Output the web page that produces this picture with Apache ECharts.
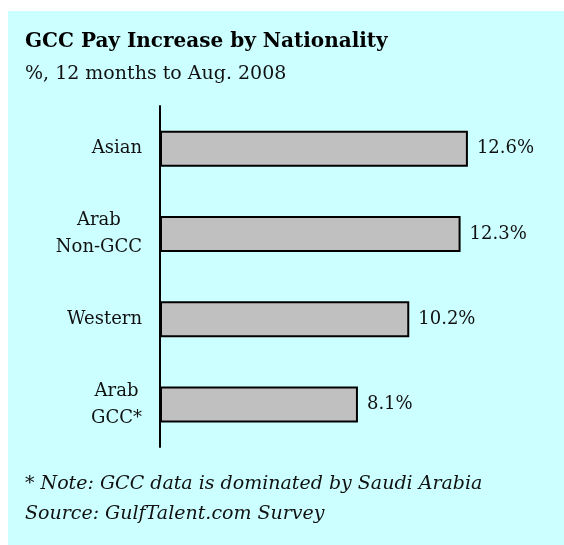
<!DOCTYPE html>
<html>
<head>
<meta charset="utf-8">
<script src="https://cdn.jsdelivr.net/npm/echarts@6/dist/echarts.min.js"></script>
<style>
  html, body { margin: 0; padding: 0; background: #fff; }
  #chart { width: 564px; height: 545px; }
</style>
</head>
<body>
<div id="chart"></div>
<script>
  var categories = ['Asian', 'Arab\nNon-GCC', 'Western', 'Arab\nGCC*']
  var payIncrease = [12.6, 12.3, 10.2, 8.1]

  var serif = 'DejaVu Serif'
  var myChart = echarts.init(document.getElementById('chart'))
  var option = {
    backgroundColor: '#fff',
    animation: false,
    graphic: [
      {
        type: 'rect',
        z: -10,
        shape: { x: 8, y: 11, width: 556, height: 534 },
        style: { fill: '#ccffff' }
      },
      {
        type: 'text',
        left: 25,
        top: 32,
        style: { text: 'GCC Pay Increase by Nationality', fontFamily: serif, fontWeight: 'bold', fontSize: 20, fill: '#000' }
      },
      {
        type: 'text',
        left: 25,
        top: 65,
        style: { text: '%, 12 months to Aug. 2008', fontFamily: serif, fontSize: 19, fill: '#111' }
      },
      {
        type: 'text',
        left: 25,
        top: 469,
        style: {
          text: '* Note: GCC data is dominated by Saudi Arabia\nSource: GulfTalent.com Survey',
          fontFamily: serif,
          fontStyle: 'italic',
          fontSize: 19,
          lineHeight: 30,
          fill: '#111'
        }
      }
    ],
    grid: {
      top: 106,
      bottom: 98,
      left: 160,
      right: 13
    },
    xAxis: {
      type: 'value',
      min: 0,
      max: 16,
      show: false
    },
    yAxis: {
      type: 'category',
      inverse: true,
      data: categories,
      axisLine: { lineStyle: { color: '#000', width: 2 } },
      axisTick: { show: false },
      axisLabel: {
        margin: 18,
        align: 'right',
        formatter: function (value) {
          return value.split('\n').map(function (line) {
            return '{c|' + line + '}'
          }).join('\n')
        },
        rich: {
          c: {
            color: '#111',
            fontFamily: serif,
            fontSize: 18,
            lineHeight: 27,
            align: 'center'
          }
        }
      }
    },
    series: [{
      type: 'bar',
      barWidth: 36,
      data: payIncrease,
      itemStyle: {
        color: '#c0c0c0',
        borderColor: '#000',
        borderWidth: 2
      },
      label: {
        show: true,
        position: 'right',
        distance: 9,
        color: '#111',
        fontFamily: serif,
        fontSize: 18,
        formatter: function (param) {
          return param.value.toFixed(1) + '%'
        }
      }
    }]
  }
  option && myChart.setOption(option)
</script>
</body>
</html>
